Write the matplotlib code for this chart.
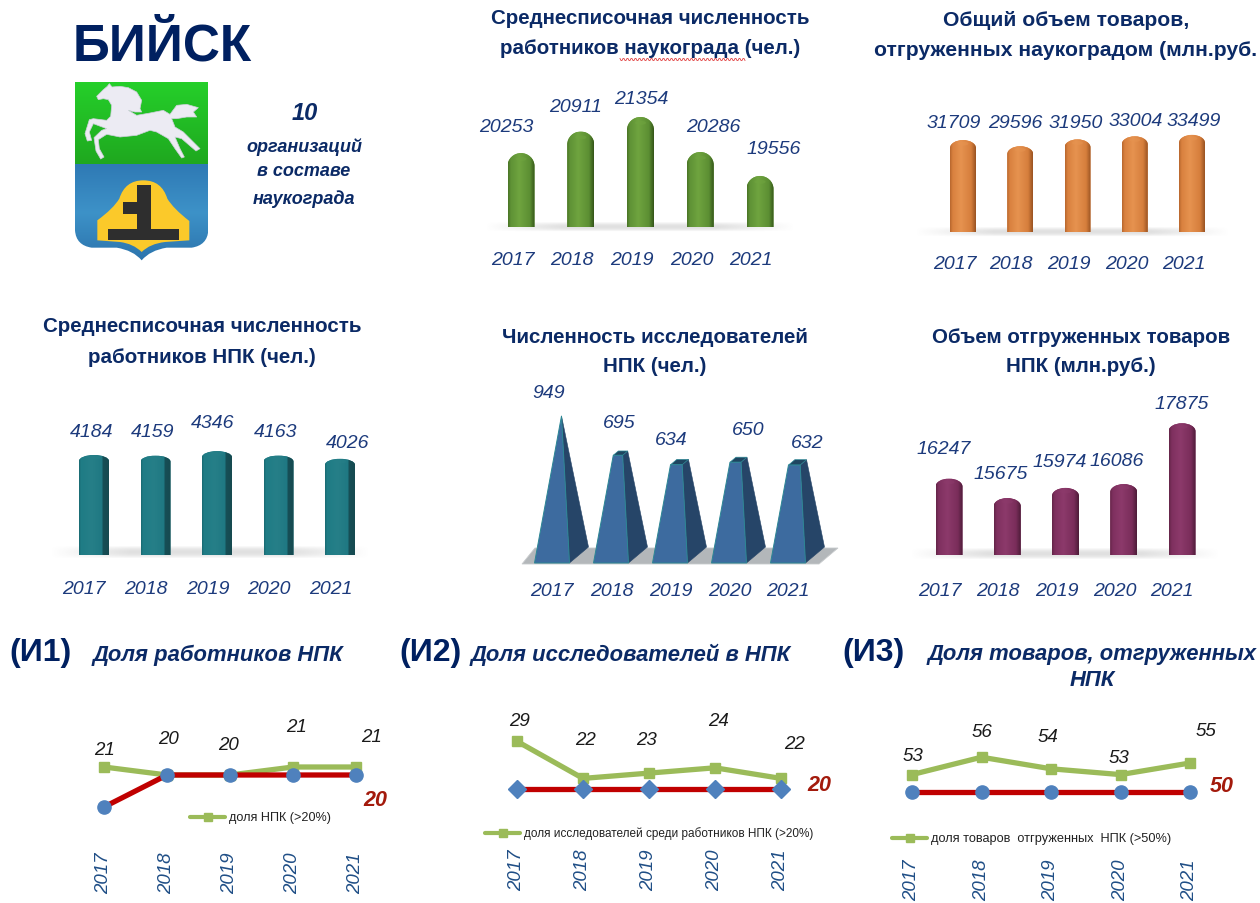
import numpy as np
import matplotlib
matplotlib.use("Agg")
import matplotlib.pyplot as plt
from matplotlib.patches import Polygon, PathPatch, Ellipse
from matplotlib.path import Path
from matplotlib.colors import LinearSegmentedColormap

# ---------- data ----------
YEARS = ["2017", "2018", "2019", "2020", "2021"]
staff_city = [20253, 20911, 21354, 20286, 19556]
goods_city = [31709, 29596, 31950, 33004, 33499]
staff_npk = [4184, 4159, 4346, 4163, 4026]
researchers_npk = [949, 695, 634, 650, 632]
goods_npk = [16247, 15675, 15974, 16086, 17875]
share_staff = [21, 20, 20, 21, 21]
share_staff_norm = [16, 20, 20, 20, 20]
share_res = [29, 22, 23, 24, 22]
share_res_norm = [20, 20, 20, 20, 20]
share_goods = [53, 56, 54, 53, 55]
share_goods_norm = [50, 50, 50, 50, 50]

NAVY = "#0b2a66"
LAB = "#1c3a7c"
W, H = 1260, 904
SANS = ["Liberation Sans", "DejaVu Sans"]

fig = plt.figure(figsize=(W / 100, H / 100), dpi=100, facecolor="white")
bg = fig.add_axes([0, 0, 1, 1], zorder=0)
bg.set_xlim(0, W)
bg.set_ylim(H, 0)
bg.axis("off")


def px_axes(x_first, dx, top, bottom, zorder=2):
    ax = fig.add_axes([(x_first - dx / 2) / W, 1 - bottom / H, 5 * dx / W, (bottom - top) / H], zorder=zorder)
    ax.patch.set_alpha(0)
    ax.set_xlim(-0.5, 4.5)
    return ax


def shadow(x0, x1, y0, y1):
    t = np.linspace(0, 1, 200)
    a = np.clip(np.minimum(t / 0.25, (1 - t) / 0.25), 0, 1) * 0.32
    v = np.sin(np.linspace(0.2, np.pi, 12))[:, None]
    img = np.zeros((12, 200, 4))
    img[..., :3] = 0.62
    img[..., 3] = a[None, :] * v
    bg.imshow(img, extent=(x0, x1, y1, y0), aspect="auto", zorder=1)
    bg.set_xlim(0, W)
    bg.set_ylim(H, 0)


def cylinders(values, x_first, dx, base, scale, vmin, wpx, cap_px, stops):
    ax = px_axes(x_first, dx, base - 170, base)
    ax.set_ylim(vmin, vmin + 170 / scale)
    ax.axis("off")
    cmap = LinearSegmentedColormap.from_list("c", stops)
    mid = stops[len(stops) // 2][1]
    grad = np.linspace(0, 1, 64)[None, :]
    w = wpx / dx
    cap = cap_px / scale
    low = 2 / scale
    bars = ax.bar(range(5), values, width=w, bottom=0, color=mid, linewidth=0, zorder=2)
    k = 0.55
    for i, (v, rect) in enumerate(zip(values, bars)):
        rect.set_y(vmin)
        rect.set_height(v - vmin)
        l, r = i - w / 2, i + w / 2
        verts = [(l, vmin), (l, v - cap), (l, v - cap + cap * k), (i - w / 2 * k, v), (i, v),
                 (i + w / 2 * k, v), (r, v - cap + cap * k), (r, v - cap), (r, vmin),
                 (r, vmin - low * k), (i + w / 2 * k, vmin - low), (i, vmin - low),
                 (i - w / 2 * k, vmin - low), (l, vmin - low * k), (l, vmin), (l, vmin)]
        codes = [Path.MOVETO, Path.LINETO, Path.CURVE4, Path.CURVE4, Path.CURVE4, Path.CURVE4, Path.CURVE4,
                 Path.CURVE4, Path.LINETO, Path.CURVE4, Path.CURVE4, Path.CURVE4, Path.CURVE4, Path.CURVE4,
                 Path.CURVE4, Path.CLOSEPOLY]
        clip = PathPatch(Path(verts, codes), transform=ax.transData, facecolor="none", edgecolor="none")
        ax.add_patch(clip)
        clip.set_clip_on(False)
        rect.set_clip_path(clip)
        im = ax.imshow(grad, cmap=cmap, extent=(l, r, vmin - low, v), aspect="auto", zorder=3)
        im.set_clip_path(clip)
        light = stops[2][1]
        e = Ellipse((i, v - cap * 0.45), w * 0.42, 4 / scale, facecolor=light, alpha=0.55, linewidth=0, zorder=4)
        e.set_clip_on(False)
        ax.add_patch(e)
    ax.set_xlim(-0.5, 4.5)
    ax.set_ylim(vmin, vmin + 170 / scale)


def pyramids(values, x_first, dx, base, scale, vmin):
    ax = px_axes(x_first, dx, base - 170, base + 2)
    ax.set_ylim(vmin - 2 / scale, vmin + 170 / scale)
    ax.axis("off")
    hw, off, depth_x, depth_y = 17.5, 9.5, 19, 16
    vmax = max(values)
    edge = "#2b8794"
    for i, v in enumerate(values):
        t = (v - vmin) / (vmax - vmin)
        X = lambda p: i + p / dx
        Y = lambda p: vmin + p / scale
        h = (vmax - vmin) * scale
        L0, R0 = -hw, hw
        BR0 = (R0 + depth_x, depth_y)
        fl, fr = L0 + (off - L0) * t, R0 + (off - R0) * t
        br = BR0[0] + (off - BR0[0]) * t
        by = BR0[1] + (h - BR0[1]) * t
        ty = h * t
        bl = fl + (br - fr)
        side = [(X(R0), Y(0)), (X(BR0[0]), Y(BR0[1])), (X(br), Y(by)), (X(fr), Y(ty))]
        top = [(X(fl), Y(ty)), (X(fr), Y(ty)), (X(br), Y(by)), (X(bl), Y(by))]
        front = [(X(L0), Y(0)), (X(R0), Y(0)), (X(fr), Y(ty)), (X(fl), Y(ty))]
        ax.add_patch(Polygon(side, closed=True, fc="#264568", ec="#264568", lw=0.4, zorder=2, clip_on=False))
        ax.add_patch(Polygon(top, closed=True, fc="#1f4560", ec=edge, lw=0.5, zorder=3, clip_on=False))
        ax.add_patch(Polygon(front, closed=True, fc="#3d6b9f", ec=edge, lw=0.7, zorder=4, clip_on=False))


def lines(vals, norm, x_first, dx, ref_val, ref_y, scale, tick_top, marker, legend_text):
    top, bottom = 700, tick_top - 6
    ax = px_axes(x_first, dx, top, bottom, zorder=3)
    y2v = lambda y: ref_val + (ref_y - y) / scale
    ax.set_ylim(y2v(bottom), y2v(top))
    xs = list(range(5))
    ax.plot(xs, vals, color="#9bbb59", lw=3.8, marker="s", ms=6.5, solid_capstyle="round",
            solid_joinstyle="round", label=legend_text, zorder=2)
    ax.plot(xs, norm, color="#c00000", lw=3.8, zorder=3)
    ax.plot(xs, norm, ls="none", marker=marker, ms=9.5, color="#4f81bd", zorder=4)
    for s in ax.spines.values():
        s.set_visible(False)
    ax.set_yticks([])
    ax.set_xticks(xs)
    ax.set_xticklabels(YEARS, rotation=90, fontsize=13.5, color="#1f4e86", style="italic",
                       family=SANS, fontweight="normal")
    ax.tick_params(axis="x", length=0, pad=4)
    return ax


# ---------- shadows ----------
shadow(485, 795, 223, 233)
shadow(915, 1230, 228, 238)
shadow(50, 370, 547, 560)
shadow(910, 1220, 549, 561)

# ---------- pyramid floor ----------
bg.add_patch(Polygon([(522, 565), (819, 565), (838, 549), (535, 549)], closed=True, fc="#b3b7ba", ec="#c8cbcd", lw=0.6, zorder=1))

# ---------- bar charts ----------
cylinders(staff_city, 521, 59.75, 228, 0.0328, 18000, 27, 13,
          [(0, "#4a7526"), (0.1, "#5f9236"), (0.42, "#6fa43f"), (0.82, "#5c8f33"), (1, "#35561a")])
cylinders(goods_city, 963, 57.25, 233, 0.0029, 0, 26, 8,
          [(0, "#b8672e"), (0.1, "#d9813f"), (0.42, "#e69350"), (0.82, "#d67e3c"), (1, "#9a5423")])
cylinders(staff_npk, 94, 61.5, 556, 0.0239, 0, 30, 6,
          [(0, "#1a6a72"), (0.06, "#1f7c85"), (0.42, "#267f88"), (0.78, "#1f7882"), (0.8, "#164f56"), (1, "#164a50")])
pyramids(researchers_npk, 552, 59, 564, 0.155, 0)
cylinders(goods_npk, 949, 58.25, 556, 0.034, 14000, 27, 8,
          [(0, "#642549"), (0.1, "#7f305f"), (0.42, "#8c3a6b"), (0.82, "#7a2d5a"), (1, "#4e1c39")])


def value_labels(values, xs, ys, size=14):
    for v, x, y in zip(values, xs, ys):
        bg.text(x, y, str(v), ha="center", va="center", fontsize=size, style="italic", color=LAB, family=SANS, zorder=6)


def year_labels(xs, y, size=14):
    for t, x in zip(YEARS, xs):
        bg.text(x, y, t, ha="center", va="center", fontsize=size, style="italic", color=LAB, family=SANS, zorder=6)


value_labels(staff_city, [506, 576, 641, 713, 774], [127, 108, 100, 127, 149])
year_labels([513, 572, 632, 692, 751], 261)
value_labels(goods_city, [954, 1015, 1076, 1136, 1194], [123, 124, 123, 122, 122])
year_labels([955, 1011, 1069, 1127, 1184], 265)
value_labels(staff_npk, [92, 153, 213, 276, 348], [433, 433, 424, 433, 444])
year_labels([84, 146, 208, 269, 331], 590)
value_labels(researchers_npk, [549, 619, 671, 748, 807], [394, 424, 441, 431, 444])
year_labels([552, 612, 671, 730, 788], 592)
value_labels(goods_npk, [944, 1001, 1060, 1117, 1182], [450, 475, 463, 462, 405])
year_labels([940, 998, 1057, 1115, 1172], 592)


def title(lines_, cx, ys, size=14.8):
    for t, y in zip(lines_, ys):
        bg.text(cx, y, t, ha="center", va="center", fontsize=size, fontweight="bold", color=NAVY, family=SANS, zorder=6)


title(["Среднесписочная численность", "работников наукограда (чел.)"], 650, [19, 49])
title(["Общий объем товаров,", "отгруженных наукоградом (млн.руб."], 1066, [21, 50], size=15.2)
title(["Среднесписочная численность", "работников НПК (чел.)"], 202, [327, 358])
title(["Численность исследователей", "НПК (чел.)"], 655, [338, 367])
title(["Объем отгруженных товаров", "НПК (млн.руб.)"], 1081, [338, 367])

# spell-check squiggle under one title word
sx = np.arange(620, 746, 1.0)
bg.plot(sx, 60.5 + 1.0 * np.sign(np.sin(sx * 1.57)), color="#e04040", lw=0.6, zorder=6)

# ---------- header and emblem ----------
bg.text(73, 47, "БИЙСК", ha="left", va="center", fontsize=37, fontweight="bold", color="#002060", family=SANS, zorder=6)
bg.text(305, 114, "10", ha="center", va="center", fontsize=17, fontweight="bold", style="italic", color=NAVY, family=SANS, zorder=6)
for t, y in zip(["организаций", "в составе", "наукограда"], [147, 172, 199]):
    bg.text(304, y, t, ha="center", va="center", fontsize=13, fontweight="bold", style="italic", color=NAVY, family=SANS, zorder=6)


def z(p):
    """emblem crop coordinates to figure pixels"""
    return (70 + p[0] / 3, 78 + p[1] / 3)


C3, C4, LT, MV, CL = Path.CURVE3, Path.CURVE4, Path.LINETO, Path.MOVETO, Path.CLOSEPOLY
shield_pts = [((15, 15), MV), ((415, 15), LT), ((415, 460), LT), ((412, 505), C3), ((365, 512), C3),
              ((290, 512), LT), ((240, 520), C3), ((215, 550), C3), ((190, 520), C3), ((140, 512), C3),
              ((65, 512), LT), ((18, 505), C3), ((15, 460), C3), ((15, 15), CL)]
shield = PathPatch(Path([z(p) for p, _ in shield_pts], [c for _, c in shield_pts]), fc="none", ec="none", zorder=2)
bg.add_patch(shield)
ramp = LinearSegmentedColormap.from_list("b", ["#2f7ab5", "#3d92c8", "#2c74ad"])
blue = bg.imshow(np.linspace(0, 1, 64)[:, None], cmap=ramp, extent=(75, 208, 262, 165), aspect="auto", zorder=2)
blue.set_clip_path(shield)
green = bg.imshow(np.linspace(0, 1, 64)[:, None], cmap=LinearSegmentedColormap.from_list("g", ["#25cf2a", "#1fa81f"]),
                  extent=(75, 208, 165, 83), aspect="auto", zorder=2)
green.set_clip_path(shield)
bg.set_xlim(0, W)
bg.set_ylim(H, 0)
horse = [(80, 58), (100, 38), (112, 28), (118, 20), (126, 30), (150, 28), (175, 32), (200, 45), (215, 70), (210, 95),
         (215, 105), (195, 105), (175, 100), (200, 115), (240, 108), (280, 100), (300, 112), (320, 85), (350, 82),
         (385, 92), (370, 105), (380, 120), (350, 120), (320, 125), (305, 125), (315, 150), (340, 165), (390, 215),
         (378, 222), (335, 185), (315, 180), (330, 215), (343, 240), (335, 243), (315, 215), (295, 185), (260, 165),
         (240, 160), (200, 175), (150, 180), (110, 172), (85, 188), (88, 215), (102, 240), (92, 246), (78, 222),
         (72, 182), (95, 160), (110, 155), (70, 140), (58, 165), (65, 190), (52, 192), (45, 170), (58, 128), (70, 125),
         (110, 130), (122, 118), (125, 85), (115, 68), (100, 65), (85, 68)]
bg.add_patch(Polygon([z(p) for p in horse], closed=True, fc="#ecebf3", ec="#cfd0dc", lw=0.5, joinstyle="round", zorder=3))
bell_pts = [((82, 430), MV), ((130, 395), C3), ((148, 365), C3), ((165, 310), C3), ((220, 310), C3), ((275, 310), C3),
            ((292, 365), C3), ((310, 395), C3), ((358, 432), C3), ((358, 490), LT), ((285, 495), LT), ((240, 500), C3),
            ((215, 525), C3), ((190, 500), C3), ((150, 495), C3), ((82, 490), LT), ((82, 430), CL)]
bg.add_patch(PathPatch(Path([z(p) for p, _ in bell_pts], [c for _, c in bell_pts]), fc="#fbc92a", ec="none", zorder=3))
mark = [(200, 325), (243, 325), (243, 455), (327, 455), (327, 490), (115, 490), (115, 455), (200, 455), (200, 410),
        (158, 410), (158, 375), (200, 375)]
bg.add_patch(Polygon([z(p) for p in mark], closed=True, fc="#2e2e2e", ec="none", zorder=4))

# ---------- indicator headers ----------
for t, x in zip(["(И1)", "(И2)", "(И3)"], [9, 399, 842]):
    bg.text(x, 653, t, ha="left", va="center", fontsize=23, fontweight="bold", color="#002060", family=SANS, zorder=6)
for t, x, y, ha in [("Доля работников НПК", 93, 655, "left"), ("Доля исследователей в НПК", 471, 655, "left"),
                    ("Доля товаров, отгруженных", 928, 655, "left"), ("НПК", 1092, 681, "center")]:
    bg.text(x, y, t, ha=ha, va="center", fontsize=15.8, fontweight="bold", style="italic", color=NAVY, family=SANS, zorder=6)

# ---------- line charts ----------
lines(share_staff, share_staff_norm, 104, 63, 20, 776, 8, 853, "o", "доля НПК (>20%)")
lines(share_res, share_res_norm, 517, 66, 20, 790, 5.3, 850, "D", "доля исследователей среди работников НПК (>20%)")
lines(share_goods, share_goods_norm, 912, 69.5, 50, 793, 5.8, 860, "o", "доля товаров  отгруженных  НПК (>50%)")


def line_labels(vals, xs, ys):
    for v, x, y in zip(vals, xs, ys):
        bg.text(x, y, str(v), ha="center", va="center", fontsize=13.5, style="italic", color="#1a1a1a", family=SANS, zorder=6)


line_labels(share_staff, [104, 168, 228, 296, 371], [751, 740, 746, 728, 738])
line_labels(share_res, [519, 585, 646, 718, 794], [722, 741, 741, 722, 745])
line_labels(share_goods, [913, 982, 1048, 1119, 1206], [757, 733, 738, 759, 732])

for t, x, y in [(share_staff_norm[-1], 375, 801), (share_res_norm[-1], 819, 786), (share_goods_norm[-1], 1222, 787)]:
    bg.text(x, y, str(t), ha="center", va="center", fontsize=15.5, fontweight="bold", style="italic", color="#a31a0c", family=SANS, zorder=6)

for t, x0, y, size in [("доля НПК (>20%)", 190, 818, 9.1), ("доля исследователей среди работников НПК (>20%)", 485, 834, 8.5),
                       ("доля товаров  отгруженных  НПК (>50%)", 892, 839, 9.2)]:
    bg.plot([x0, x0 + 35], [y, y], color="#9bbb59", lw=3, solid_capstyle="round", zorder=5)
    bg.plot([x0 + 18], [y], marker="s", ms=6, color="#9bbb59", zorder=5)
    bg.text(x0 + 39, y, t, ha="left", va="center", fontsize=size, color="#222222", family=SANS, zorder=6)

bg.set_xlim(0, W)
bg.set_ylim(H, 0)
fig.savefig("out.png", dpi=100, facecolor="white")
